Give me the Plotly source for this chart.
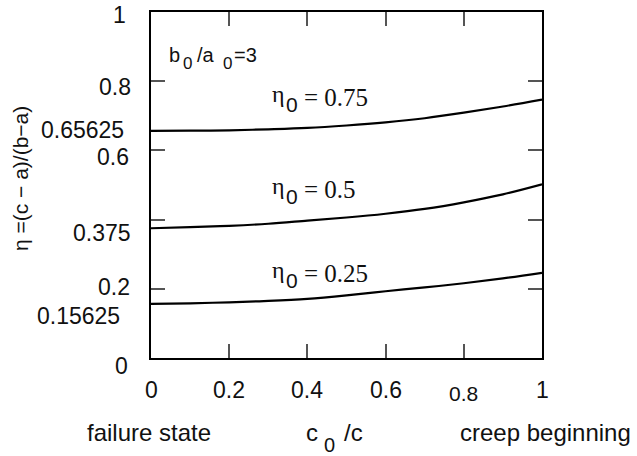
import plotly.graph_objects as go

# ---- data ----
x_vals = [0.0, 0.1, 0.2, 0.3, 0.4, 0.5, 0.6, 0.7, 0.8, 0.9, 1.0]
eta_075 = [0.65625, 0.657, 0.658, 0.661, 0.665, 0.672, 0.681, 0.693, 0.709, 0.727, 0.747]
eta_050 = [0.375, 0.378, 0.382, 0.388, 0.397, 0.406, 0.417, 0.431, 0.450, 0.473, 0.502]
eta_025 = [0.15625, 0.158, 0.161, 0.165, 0.171, 0.181, 0.193, 0.204, 0.216, 0.230, 0.246]
curve_labels = ["0.75", "0.5", "0.25"]

x_tick_vals = [0, 0.2, 0.4, 0.6, 0.8, 1]
x_tick_text = ["0", "0.2", "0.4", "0.6", "0.8", "1"]
y_tick_vals = [1, 0.8, 0.65625, 0.6, 0.375, 0.2, 0.15625, 0]
y_tick_text = ["1", "0.8", "0.65625", "0.6", "0.375", "0.2", "0.15625", "0"]
minor_ticks = [0.2, 0.4, 0.6, 0.8]

# ---- styling (pixel offsets of the hand-placed labels) ----
y_label_shift = {1: (-23, -3), 0.8: (-18, -6), 0.65625: (-25, 1), 0.6: (-20, -7),
                 0.375: (-18, -5), 0.2: (-19, 2), 0.15625: (-29, -12), 0: (-21, -8)}
x_label_style = {0.8: (21, -35)}
curve_label_y = [96, 189, 273]   # pixel centre of "= value" text

FONT = "Liberation Sans, Arial, Helvetica, sans-serif"
SERIF = "Liberation Serif, Times New Roman, serif"
TXT = "#111111"
L, T, W, H = 151, 10, 391, 348   # plot box in pixels


def px(xp, yp):
    return (xp - L) / W, (T + H - yp) / H


fig = go.Figure()
for ys in (eta_075, eta_050, eta_025):
    fig.add_trace(go.Scatter(x=x_vals, y=ys, mode="lines",
                             line=dict(color="black", width=2.2, shape="spline"),
                             showlegend=False, hoverinfo="skip"))

ann = []
for v, t in zip(y_tick_vals, y_tick_text):
    dx, dy = y_label_shift[v]
    ann.append(dict(x=0, y=v, xref="paper", yref="y", text=t, showarrow=False,
                    xanchor="right", yanchor="middle", xshift=dx, yshift=dy,
                    font=dict(family=FONT, size=23, color=TXT)))
for v, t in zip(x_tick_vals, x_tick_text):
    size, dy = x_label_style.get(v, (23, -32))
    ann.append(dict(x=v, y=0, xref="x", yref="paper", text=t, showarrow=False,
                    xanchor="center", yanchor="middle", yshift=dy,
                    font=dict(family=FONT, size=size, color=TXT)))


def piece(text, xp, yp, size, family=FONT, anchor="left", angle=0):
    xx, yy = px(xp, yp)
    ann.append(dict(x=xx, y=yy, xref="paper", yref="paper", text=text,
                    showarrow=False, xanchor=anchor, yanchor="middle",
                    textangle=angle, font=dict(family=family, size=size, color=TXT)))


# axis captions
piece("failure state", 149, 433, 24, anchor="center")
piece("c", 304, 433, 24)
piece("0", 322, 446, 20)
piece("/c", 342, 433, 24)
piece("creep beginning", 545, 433, 24, anchor="center")
piece("η =(c − a)/(b−a)", 20, 178, 21, anchor="center", angle=-90)

# b0/a0 = 3
piece("b", 167, 53, 20)
piece("0", 181, 62, 17)
piece("/a", 195, 53, 20)
piece("0", 221, 62, 17)
piece("=3", 232, 53, 20)

# curve labels
for lab, yc in zip(curve_labels, curve_label_y):
    piece("η", 270, yc - 4, 24, family=SERIF)
    piece("0", 284, yc + 7, 21)
    piece("= " + lab, 302, yc, 25, family=SERIF)

axis_common = dict(range=[0, 1], showgrid=False, zeroline=False, showline=True,
                   linecolor="black", linewidth=1.5, mirror="ticks",
                   ticks="inside", ticklen=14, tickwidth=1.5, tickcolor="#555555",
                   tickvals=minor_ticks, showticklabels=False)

fig.update_layout(
    width=637, height=456,
    margin=dict(l=L, r=637 - L - W, t=T, b=456 - T - H),
    paper_bgcolor="white", plot_bgcolor="white",
    xaxis=axis_common, yaxis=axis_common,
    annotations=ann,
)

fig.write_html("out.html")
